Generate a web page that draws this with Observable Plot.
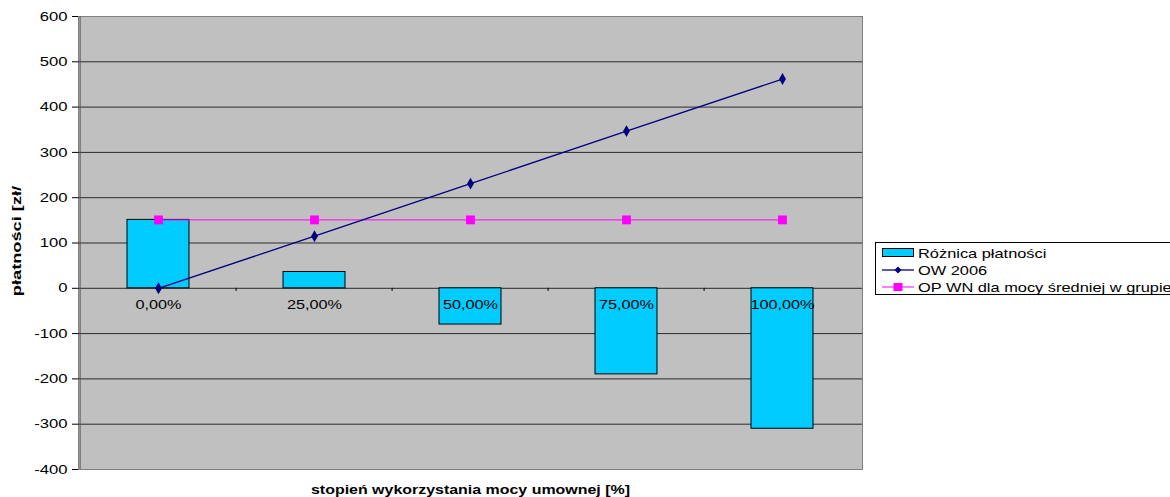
<!DOCTYPE html>
<html>
<head>
<meta charset="utf-8">
<script src="https://cdn.jsdelivr.net/npm/d3@7"></script>
<script src="https://cdn.jsdelivr.net/npm/@observablehq/plot@0.6"></script>
<style>
  html, body { margin: 0; padding: 0; background: #fff; overflow: hidden; }
  #wrap { position: relative; width: 1170px; height: 497px; font-family: "Liberation Sans", Arial, sans-serif; }
  #legend {
    position: absolute; left: 875px; top: 242px; width: 330px; height: 53px;
    border: 1px solid #000; background: #fff; box-sizing: border-box;
    font-size: 13px; color: #000;
  }
  .row { position: absolute; left: 6px; height: 16px; display: flex; align-items: center; white-space: nowrap; }
  .row svg { margin-right: 4px; flex: none; }
  .row span { display: inline-block; transform: scaleX(1.26); transform-origin: left center; }
</style>
</head>
<body>
<div id="wrap">
  <div id="chart"></div>
  <div id="legend">
    <div class="row" style="top:2px">
      <svg width="32" height="10"><rect x="0.5" y="0.5" width="31" height="8" fill="#00CCFF" stroke="#000"/></svg><span>Różnica płatności</span>
    </div>
    <div class="row" style="top:19px">
      <svg width="32" height="10"><line x1="0" x2="32" y1="5" y2="5" stroke="#000080" stroke-width="1.3"/><path d="M16,1.5L19.5,5L16,8.5L12.5,5Z" fill="#000080"/></svg><span>OW 2006</span>
    </div>
    <div class="row" style="top:36px">
      <svg width="32" height="10"><line x1="0" x2="32" y1="5" y2="5" stroke="#FF00FF" stroke-width="1"/><rect x="11.5" y="1" width="9" height="8" fill="#FF00FF"/></svg><span>OP WN dla mocy średniej w grupie</span>
    </div>
  </div>
</div>
<script>
// Utilisation levels of contracted power
const categories = ["0,00%", "25,00%", "50,00%", "75,00%", "100,00%"];
// Payment difference (bars)
const roznica = [151, 36, -80, -190, -310];
// OW 2006 payments
const ow2006 = [0, 115, 231, 347, 462];
// OP WN for average power in the group
const opWn = [151, 151, 151, 151, 151];
// Value axis ticks
const yTicks = [-400, -300, -200, -100, 0, 100, 200, 300, 400, 500, 600];
// Axis titles
const yTitle = "płatności [zł/";
const xTitle = "stopień wykorzystania mocy umownej [%]";

const data = categories.map((c, i) => ({cat: c, diff: roznica[i], ow: ow2006[i], op: opWn[i]}));

const W = 1170, H = 497, mL = 78, mR = 308, mT = 16, mB = 28;
const halfBand = (W - mL - mR) / categories.length / 2;
const font = "Liberation Sans, Arial, sans-serif";

const chart = Plot.plot({
  width: W,
  height: H,
  marginLeft: mL,
  marginRight: mR,
  marginTop: mT,
  marginBottom: mB,
  style: {fontFamily: font, fontSize: "13px", color: "#000", background: "transparent"},
  x: {type: "band", domain: categories, paddingInner: 0, paddingOuter: 0, axis: null},
  y: {domain: [-400, 600], ticks: yTicks, label: null},
  marks: [
    Plot.frame({fill: "#C0C0C0", stroke: "#808080"}),
    Plot.ruleY(yTicks.filter(t => t > -400 && t < 600), {stroke: "#2a2a2a", strokeWidth: 1}),
    Plot.ruleX(categories.slice(1), {x: d => d, y1: 0, y2: -7, dx: -halfBand, stroke: "#000"}),
    Plot.barY(data, {x: "cat", y: "diff", fill: "#00CCFF", stroke: "#000", strokeWidth: 1, insetLeft: 47, insetRight: 47}),
    Plot.text(data, {x: "cat", y: 0, text: "cat", dy: 17, fontSize: 13, fill: "#000"}),
    Plot.line(data, {x: "cat", y: "op", stroke: "#FF00FF", strokeWidth: 1}),
    Plot.dot(data, {x: "cat", y: "op", symbol: "square", r: 5, fill: "#FF00FF", stroke: "none"}),
    Plot.line(data, {x: "cat", y: "ow", stroke: "#000080", strokeWidth: 1.3}),
    Plot.dot(data, {x: "cat", y: "ow", symbol: "diamond", r: 3.6, fill: "#000080", stroke: "none"}),
    Plot.axisY({ticks: yTicks, tickSize: 6, tickPadding: 5, fontSize: 13, label: null, tickFormat: d => String(d)}),
    Plot.ruleX([0], {x: () => categories[0], dx: -halfBand, stroke: "#555", strokeWidth: 1}),
    Plot.text([yTitle], {frameAnchor: "left", textAnchor: "middle", dx: -61, dy: -2, rotate: -90, fontWeight: "bold", fontSize: 12}),
    Plot.text([xTitle], {frameAnchor: "bottom", dy: 24, fontWeight: "bold", fontSize: 12})
  ]
});

// Widen glyphs along their reading direction, keeping each text's anchor point
function widen(t, sx) {
  let tr = t.getAttribute("transform") || "";
  const x = t.getAttribute("x");
  if (x !== null && !/em$/.test(x)) {
    tr = `translate(${x},0) ` + tr;
    t.removeAttribute("x");
  }
  t.setAttribute("transform", tr + ` scale(${sx},1)`);
}
chart.querySelectorAll("text").forEach(t => {
  const s = t.textContent.trim();
  if (categories.includes(s)) widen(t, 1.25);
  else if (/^-?\d+$/.test(s)) widen(t, 1.28);
  else if (s === xTitle) widen(t, 1.33);
  else if (s === yTitle) widen(t, 1.52);
});

document.getElementById("chart").appendChild(chart);
</script>
</body>
</html>
